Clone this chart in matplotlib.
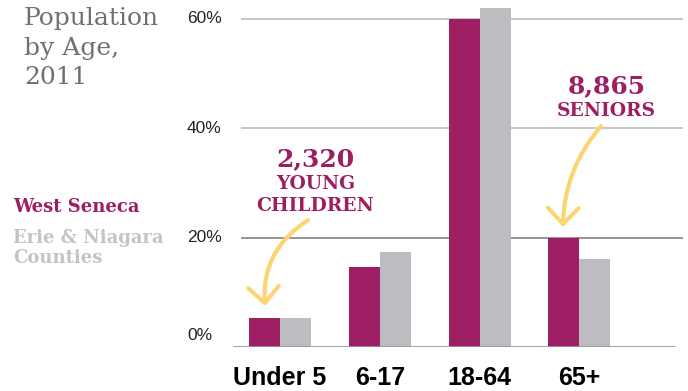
import numpy as np
import matplotlib.pyplot as plt

# ---- data ---------------------------------------------------------
groups = ['Under 5', '6-17', '18-64', '65+']
west_seneca = [5.3, 14.6, 60.0, 20.0]
erie_niagara = [5.3, 17.4, 62.0, 16.1]
y_ticks = [0, 20, 40, 60]
y_labels = ['0%', '20%', '40%', '60%']
title_lines = ['Population', 'by Age,', '2011']
callouts = [('2,320', ['YOUNG', 'CHILDREN']), ('8,865', ['SENIORS'])]

# ---- colours ------------------------------------------------------
MAGENTA = '#9e1e63'
GREY_BAR = '#bcbdc0'
YELLOW = '#fcd573'
TITLE_GREY = '#707072'

W, H = 688, 391
fig = plt.figure(figsize=(W / 100, H / 100), dpi=100)
ax = fig.add_axes([230 / W, 44 / H, 458 / W, 341.7 / H])

x = np.arange(len(groups))
bw = 0.31
ax.bar(x - bw / 2, west_seneca, bw, color=MAGENTA, zorder=3, clip_on=False)
ax.bar(x + bw / 2, erie_niagara, bw, color=GREY_BAR, zorder=3, clip_on=False)

ax.set_xlim(-0.501, 4.088)
ax.set_ylim(0, 62.5)

# gridlines (the 20% one is darker in the original)
for t in y_ticks[1:]:
    col = '#8c8c8c' if t == 20 else '#c2c2c2'
    ax.hlines(t, -0.391, 4.038, color=col, lw=1.3, zorder=1)
ax.hlines(0, -0.471, 3.958, color='#999999', lw=2.0, zorder=4)

for s in ax.spines.values():
    s.set_visible(False)
ax.set_yticks([])
ax.set_xticks(x, groups)
ax.tick_params(axis='x', length=0, pad=14)
for lab in ax.get_xticklabels():
    lab.set_fontfamily('Liberation Sans')
    lab.set_fontweight('bold')
    lab.set_fontsize(18)
    lab.set_color('black')

# y labels, left aligned
for t, lab in zip(y_ticks, y_labels):
    dy = 8 if t == 0 else 0
    ax.annotate(lab, xy=(-0.094, t), xycoords=('axes fraction', 'data'),
                xytext=(0, dy), textcoords='offset points',
                ha='left', va='center', fontsize=12.5,
                family='Liberation Sans', color='#222222', annotation_clip=False)

# title
for i, line in enumerate(title_lines):
    fig.text(24 / W, 1 - (25 + 29.5 * i) / H, line, family='DejaVu Serif',
             fontsize=18, color=TITLE_GREY, va='baseline', ha='left')

# legend
fig.text(13 / W, 1 - 212 / H, 'West Seneca', family='DejaVu Serif',
         weight='bold', fontsize=13, color=MAGENTA, va='baseline')
fig.text(13 / W, 1 - 243 / H, 'Erie & Niagara', family='DejaVu Serif',
         weight='bold', fontsize=13, color='#c4c4c6', va='baseline')
fig.text(13 / W, 1 - 263 / H, 'Counties', family='DejaVu Serif',
         weight='bold', fontsize=13, color='#c4c4c6', va='baseline')

# callouts
spots = [(0.356, 33.1), (3.271, 46.5)]
for (num, words), (cx, cy) in zip(callouts, spots):
    ax.text(cx, cy, num, family='DejaVu Serif', weight='bold', fontsize=18,
            color=MAGENTA, ha='center', va='baseline')
    for j, w in enumerate(words):
        ax.text(cx, cy - 4.2 - 4.0 * j, w, family='DejaVu Serif', weight='bold',
                fontsize=13.5, color=MAGENTA, ha='center', va='baseline')

# arrows
arrows = [((0.281, 23.2), (-0.150, 7.5), 0.3), ((3.216, 40.4), (2.836, 21.95), 0.18)]
for start, tip, rad in arrows:
    ax.annotate('', xy=tip, xytext=start,
                arrowprops=dict(arrowstyle='->,head_length=1.15,head_width=1.1',
                                connectionstyle=f'arc3,rad={rad}', lw=3,
                                color=YELLOW, shrinkA=0, shrinkB=0,
                                mutation_scale=10),
                zorder=5)

plt.savefig('out.png', dpi=100)
